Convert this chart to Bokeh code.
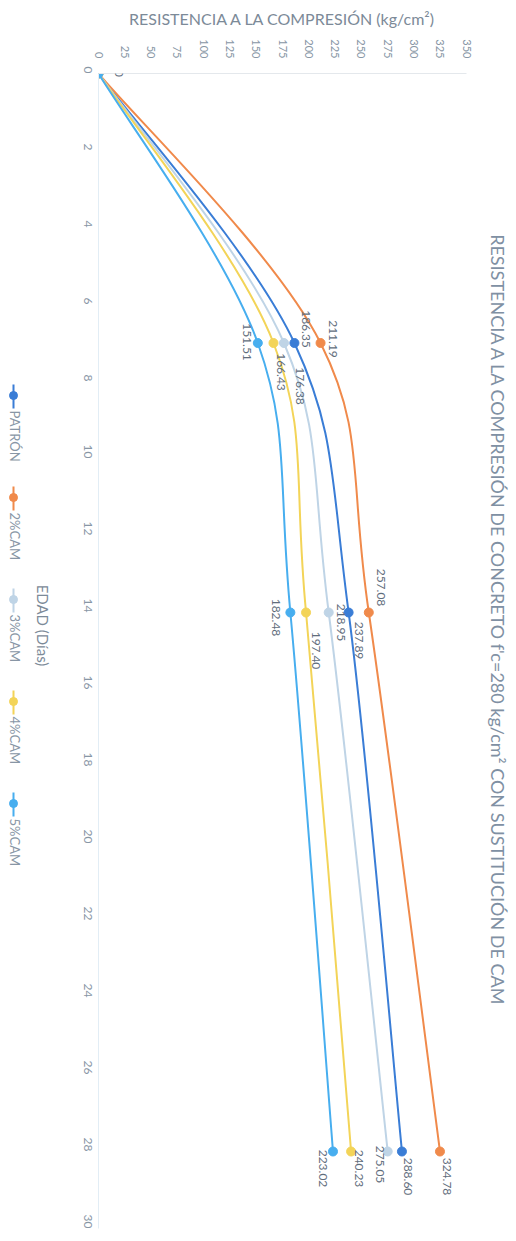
import math
from bokeh.plotting import figure
from bokeh.layouts import row
from bokeh.models import Range1d, SingleIntervalTicker, Label, LabelSet, ColumnDataSource
from bokeh.core.properties import value
from bokeh.embed import file_html
from bokeh.resources import INLINE

# ---------------- data ----------------
days = [0, 7, 14, 28]
patron = [0, 186.35, 237.89, 288.60]
cam2 = [0, 211.19, 257.08, 324.78]
cam3 = [0, 176.38, 218.95, 275.05]
cam4 = [0, 166.43, 197.40, 240.23]
cam5 = [0, 151.51, 182.48, 223.02]
series_names = ["PATRÓN", "2%CAM", "3%CAM", "4%CAM", "5%CAM"]
series_values = [patron, cam2, cam3, cam4, cam5]
title_text = "RESISTENCIA A LA COMPRESIÓN DE CONCRETO f'c=280 kg/cm² CON SUSTITUCIÓN DE CAM"
value_axis_title = "RESISTENCIA A LA COMPRESIÓN (kg/cm²)"
day_axis_title = "EDAD (Días)"

# ---------------- style / layout ----------------
colors = ["#3a7dd6", "#f08a4b", "#bfd4e6", "#f3d458", "#47aeef"]
FONT = "Lato"
TXT = "#5f6d7c"
AXT = "#8896a5"
H = 1241
LW, MW, RW = 62, 416, 38      # widths of left strip, main plot, right strip
FL, FT = 36, 73               # main frame left / top (figure px)
FW, FH = 368, 1155            # main frame width / height
FB = H - FT - FH
YS = FH / 30.0

def dy(iy):  # page y -> day units
    return (iy - FT) / YS

yr = Range1d(30, 0)

p = figure(width=MW, height=H, output_backend="svg", toolbar_location=None,
           x_range=Range1d(0, 350), y_range=yr,
           x_axis_location="above", min_border_left=FL, min_border_top=FT,
           min_border_right=MW - FL - FW, min_border_bottom=FB)
p.outline_line_color = None
p.grid.visible = False

xa = p.xaxis[0]
xa.ticker = SingleIntervalTicker(interval=25, num_minor_ticks=0)
xa.major_label_orientation = -math.pi / 2
xa.major_tick_out = 0
xa.major_tick_in = 0
xa.minor_tick_out = 0
xa.minor_tick_in = 0
xa.major_label_standoff = 15
xa.axis_line_color = "#e4e8ec"
xa.major_label_text_font = FONT
xa.major_label_text_font_size = "11px"
xa.major_label_text_color = AXT
xa.axis_label = value_axis_title
xa.axis_label_text_font = FONT
xa.axis_label_text_font_style = "normal"
xa.axis_label_text_font_size = "16px"
xa.axis_label_text_color = "#7c8a98"
xa.axis_label_standoff = 8

ya = p.yaxis[0]
ya.ticker = SingleIntervalTicker(interval=2, num_minor_ticks=0)
ya.major_label_orientation = -math.pi / 2
ya.major_tick_out = 0
ya.major_tick_in = 0
ya.minor_tick_out = 0
ya.minor_tick_in = 0
ya.major_label_standoff = 11
ya.axis_line_color = "#e2edf5"
ya.major_label_text_font = FONT
ya.major_label_text_font_size = "12px"
ya.major_label_text_color = AXT

# ---------------- smoothed lines (Catmull-Rom as bezier) ----------------
for vals, col in zip(series_values, colors):
    n = len(days)
    x0 = []; y0 = []; x1 = []; y1 = []; cx0 = []; cy0 = []; cx1 = []; cy1 = []
    for i in range(n - 1):
        a = i - 1 if i > 0 else i
        b = i + 2 if i + 2 < n else i + 1
        x0.append(vals[i]); y0.append(days[i])
        x1.append(vals[i + 1]); y1.append(days[i + 1])
        cx0.append(vals[i] + (vals[i + 1] - vals[a]) / 6.0)
        cy0.append(days[i] + (days[i + 1] - days[a]) / 6.0)
        cx1.append(vals[i + 1] - (vals[b] - vals[i]) / 6.0)
        cy1.append(days[i + 1] - (days[b] - days[i]) / 6.0)
    p.bezier(x0=x0, y0=y0, x1=x1, y1=y1, cx0=cx0, cy0=cy0, cx1=cx1, cy1=cy1,
             line_color=col, line_width=2)
    p.scatter(x=vals, y=days, size=9, marker="circle", fill_color=col, line_color=col)

# ---------------- data labels ----------------
# pixel offsets (right, down) for the labels at days 7, 14, 28
offsets = [
    [(12, -14), (10, 28), (6, 25)],
    [(12, -4), (12, -25), (7, 25)],
    [(16, 43), (12, 10), (-8, 13)],
    [(8, 29), (10, 38), (8, 17)],
    [(-11, -1), (-14, 5), (-10, 17)],
]
lx = []; ly = []; lt = []; ox = []; oy = []
for vals, offs in zip(series_values, offsets):
    for k, (ddx, ddy) in zip(range(1, len(days)), offs):
        lx.append(vals[k]); ly.append(days[k]); lt.append("%.2f" % vals[k])
        ox.append(ddx); oy.append(-ddy)
lx.append(cam5[0]); ly.append(days[0]); lt.append("%d" % cam5[0]); ox.append(20); oy.append(0)
lsrc = ColumnDataSource(dict(x=lx, y=ly, text=lt, xo=ox, yo=oy))
p.add_layout(LabelSet(x="x", y="y", text="text", source=lsrc, x_offset="xo", y_offset="yo",
                      angle=-math.pi / 2, text_align="center", text_baseline="middle",
                      text_font=value(FONT), text_font_size="12px", text_color=TXT))

# ---------------- left strip: legend + day axis title ----------------
left = figure(width=LW, height=H, output_backend="svg", toolbar_location=None,
              x_range=Range1d(0, LW), y_range=yr, x_axis_location=None, y_axis_location=None,
              min_border_left=0, min_border_right=0, min_border_top=FT, min_border_bottom=FB)
left.outline_line_color = None
left.grid.visible = False
left.add_layout(Label(x=42, y=dy(625), text=day_axis_title, angle=-math.pi / 2,
                      text_align="center", text_baseline="middle", text_font=FONT,
                      text_font_size="15px", text_color="#7c8a98"))
for i, (name, col) in enumerate(zip(series_names, colors)):
    top = 384 + i * 102
    left.segment(x0=[13], y0=[dy(top)], x1=[13], y1=[dy(top + 24)], line_color=col, line_width=2)
    left.scatter(x=[13], y=[dy(top + 11)], size=8, marker="circle", fill_color=col, line_color=col)
    left.add_layout(Label(x=14, y=dy(top + 26), text=name, angle=-math.pi / 2,
                          text_align="left", text_baseline="middle", text_font=FONT,
                          text_font_size="13px", text_color=AXT))

# ---------------- right strip: title ----------------
right = figure(width=RW, height=H, output_backend="svg", toolbar_location=None,
               x_range=Range1d(0, RW), y_range=yr, x_axis_location=None, y_axis_location=None,
               min_border_left=0, min_border_right=0, min_border_top=FT, min_border_bottom=FB)
right.outline_line_color = None
right.grid.visible = False
right.add_layout(Label(x=19, y=dy(620), text=title_text, angle=-math.pi / 2,
                       text_align="center", text_baseline="middle", text_font=FONT,
                       text_font_size="18px", text_color="#8090a3"))

layout = row(left, p, right, spacing=0)
open("out.html", "w").write(file_html(layout, INLINE))
